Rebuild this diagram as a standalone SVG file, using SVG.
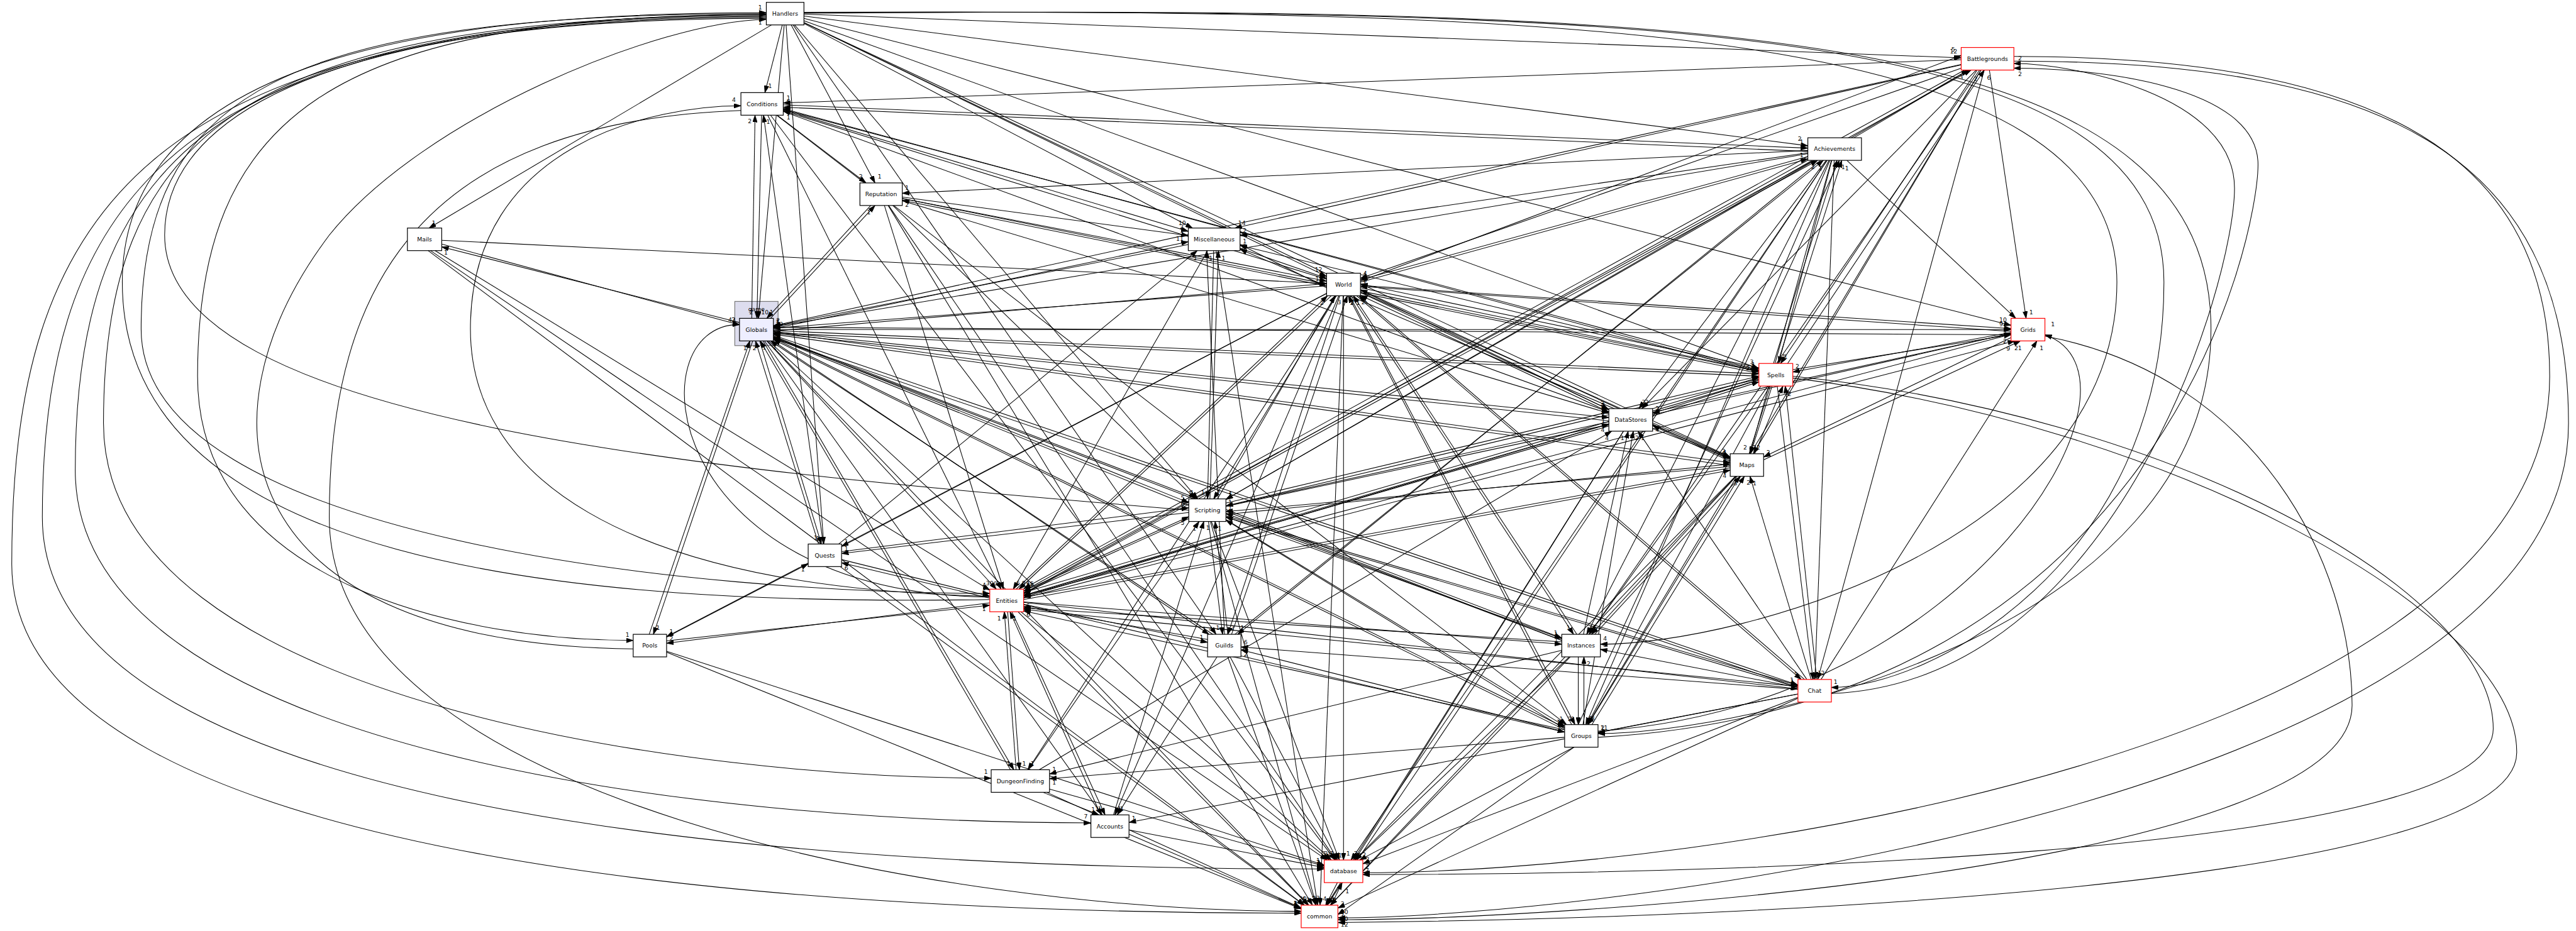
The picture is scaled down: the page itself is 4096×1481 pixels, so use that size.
<svg xmlns="http://www.w3.org/2000/svg" width="4096" height="1481" viewBox="0 0 4096 1481">
<style>
text{font-family:"DejaVu Sans","Liberation Sans",sans-serif;font-size:12.4px;fill:#000}
.n rect{fill:#fff;stroke:#000;stroke-width:1.6}
.r rect{stroke:#f00}
.n text{text-anchor:middle}
#edges path{fill:none;stroke:#000;stroke-width:1.4;marker-end:url(#a)}
</style>
<defs>
<marker id="a" markerUnits="userSpaceOnUse" markerWidth="15" markerHeight="10" refX="15" refY="5" orient="auto"><path d="M0,0 L15,5 L0,10 z" fill="#000" stroke="#000" stroke-width="1"/></marker>
</defs>
<rect x="0" y="0" width="4096" height="1481" fill="#fff"/>
<g transform="scale(0.748)">
<g id="cluster-game"><rect x="1562" y="641" width="92" height="94" fill="#ddddee" stroke="#777" stroke-width="1.6"/><text x="1608" y="662" text-anchor="middle">game</text></g>
<g id="edges">
<path d="M1709,30 L4169,123"/>
<path d="M1663,53 L1626,197"/>
<path d="M1709,34 L3843,310"/>
<path d="M1682,53 L1860,389"/>
<path d="M1709,50 L2535,485"/>
<path d="M1640,53 L912,485"/>
<path d="M1709,48 L2820,588"/>
<path d="M1667,53 L1612,677"/>
<path d="M1709,39 L4275,692"/>
<path d="M1709,44 L3739,784"/>
<path d="M1709,48 L3420,871"/>
<path d="M1709,48 L3678,972"/>
<path d="M1689,53 L2546,1061"/>
<path d="M1671,53 L1751,1157"/>
<path d="M1629,29 C600,29 300,200 300,700 C300,1150 1500,1262 2104,1262"/>
<path d="M1629,31 C700,31 420,250 420,800 C420,1250 1000,1362 1346,1362"/>
<path d="M1686,53 L2585,1349"/>
<path d="M1709,26 C3400,18 4500,60 4500,600 C4500,1150 3700,1370 3402,1370"/>
<path d="M1709,27 C3500,20 4600,40 4600,600 C4600,1200 4100,1462 3893,1462"/>
<path d="M1709,28 C3600,15 4700,40 4700,700 C4700,1350 3700,1560 3397,1560"/>
<path d="M1629,33 C500,33 220,300 220,900 C220,1500 1500,1655 2107,1655"/>
<path d="M1629,35 C450,35 160,350 160,1000 C160,1600 1500,1750 2319,1750"/>
<path d="M1629,37 C400,37 90,400 90,1100 C90,1760 1800,1848 2815,1848"/>
<path d="M1629,39 C300,39 25,450 25,1200 C25,1860 1800,1942 2766,1942"/>
<path d="M4169,127 L1665,219"/>
<path d="M4169,138 L2625,485"/>
<path d="M4169,145 L2892,592"/>
<path d="M4169,137 L1644,693"/>
<path d="M4229,149 L4307,677"/>
<path d="M4203,149 L3785,773"/>
<path d="M4201,149 L3490,869"/>
<path d="M4211,149 L3727,965"/>
<path d="M4184,149 L2606,1062"/>
<path d="M4176,149 L2176,1252"/>
<path d="M4208,149 L3378,1349"/>
<path d="M4218,149 L3864,1445"/>
<path d="M4211,149 L3375,1541"/>
<path d="M4281,120 C5000,120 5420,300 5420,800 C5420,1600 3600,1856 2897,1856"/>
<path d="M4281,130 C5050,130 5460,320 5460,900 C5460,1700 3400,1952 2844,1952"/>
<path d="M3941,293 L4184,149"/>
<path d="M2892,598 L4169,118"/>
<path d="M3800,773 L4218,149"/>
<path d="M2176,1262 L4190,149"/>
<path d="M3893,1475 C4500,1450 4750,600 4750,400 C4750,200 4400,135 4281,135"/>
<path d="M3397,1568 C4600,1500 4800,500 4800,350 C4800,180 4450,145 4281,145"/>
<path d="M1665,223 L3843,315"/>
<path d="M1652,245 L1841,389"/>
<path d="M1665,234 L2526,492"/>
<path d="M1619,245 L1609,677"/>
<path d="M1665,233 L3739,787"/>
<path d="M1665,237 L3420,876"/>
<path d="M1632,245 L2128,1253"/>
<path d="M1651,245 L3330,1541"/>
<path d="M1638,245 L2838,1829"/>
<path d="M1575,235 C900,260 700,600 700,1100 C700,1700 2000,1938 2766,1938"/>
<path d="M3843,322 L1665,228"/>
<path d="M3739,792 L1665,231"/>
<path d="M1598,677 L1605,245"/>
<path d="M2104,1268 C1300,1250 1000,1000 1000,700 C1000,300 1400,225 1575,225"/>
<path d="M2820,594 L1665,236"/>
<path d="M3843,320 L1918,411"/>
<path d="M3843,325 L2636,501"/>
<path d="M3843,333 L2892,595"/>
<path d="M3843,327 L1644,695"/>
<path d="M3926,341 L4285,677"/>
<path d="M3894,341 L3781,773"/>
<path d="M3882,341 L3484,869"/>
<path d="M3893,341 L3720,965"/>
<path d="M3858,341 L2606,1062"/>
<path d="M3856,341 L2176,1257"/>
<path d="M3870,341 L2631,1349"/>
<path d="M3888,341 L3373,1349"/>
<path d="M3899,341 L3858,1445"/>
<path d="M3890,341 L3371,1541"/>
<path d="M3884,341 L2872,1829"/>
<path d="M3884,341 L2821,1925"/>
<path d="M2176,1264 L3864,341"/>
<path d="M3770,773 L3905,341"/>
<path d="M2625,1349 L3876,341"/>
<path d="M3355,1541 L3910,341"/>
<path d="M2892,600 L3843,338"/>
<path d="M3718,965 L3915,341"/>
<path d="M1918,419 L2526,501"/>
<path d="M1918,422 L2820,598"/>
<path d="M1851,437 L1630,677"/>
<path d="M1918,422 L3739,790"/>
<path d="M1918,427 L3420,879"/>
<path d="M1898,437 L2541,1061"/>
<path d="M1880,437 L2133,1253"/>
<path d="M1889,437 L2840,1829"/>
<path d="M1888,437 L2790,1925"/>
<path d="M1638,677 L1860,437"/>
<path d="M3739,794 L1918,426"/>
<path d="M2636,528 L2820,592"/>
<path d="M2526,520 L1644,694"/>
<path d="M2580,533 L2567,1061"/>
<path d="M2567,533 L2154,1253"/>
<path d="M2585,533 L2801,1925"/>
<path d="M2572,1061 L2590,533"/>
<path d="M2820,612 L2636,520"/>
<path d="M3739,788 L2636,522"/>
<path d="M3678,974 L2636,530"/>
<path d="M1644,699 L2526,514"/>
<path d="M2603,1349 L2565,533"/>
<path d="M1783,1157 L2545,533"/>
<path d="M939,511 L2820,603"/>
<path d="M939,519 L1572,691"/>
<path d="M925,533 L2104,1255"/>
<path d="M915,533 L2821,1829"/>
<path d="M910,533 L2773,1925"/>
<path d="M1572,686 L939,525"/>
<path d="M2820,608 L1644,698"/>
<path d="M2892,607 L4275,699"/>
<path d="M2892,612 L3739,789"/>
<path d="M2892,622 L3420,871"/>
<path d="M2892,621 L3678,973"/>
<path d="M2841,629 L2580,1061"/>
<path d="M2820,624 L1789,1162"/>
<path d="M2830,629 L2166,1253"/>
<path d="M2820,624 L1417,1354"/>
<path d="M2848,629 L2610,1349"/>
<path d="M2872,629 L3345,1349"/>
<path d="M2884,629 L3829,1445"/>
<path d="M2869,629 L3348,1541"/>
<path d="M2840,629 L2185,1637"/>
<path d="M2846,629 L2370,1733"/>
<path d="M2856,629 L2856,1829"/>
<path d="M2855,629 L2806,1925"/>
<path d="M1644,704 L2820,603"/>
<path d="M3739,782 L2892,604"/>
<path d="M3678,978 L2892,616"/>
<path d="M3420,876 L2892,628"/>
<path d="M2160,1253 L2822,629"/>
<path d="M2588,1061 L2838,629"/>
<path d="M2618,1349 L2864,629"/>
<path d="M3352,1349 L2877,629"/>
<path d="M3836,1445 L2889,629"/>
<path d="M3341,1541 L2866,629"/>
<path d="M4275,705 L2892,609"/>
<path d="M1644,701 L4275,701"/>
<path d="M1644,703 L3739,795"/>
<path d="M1644,705 L3420,888"/>
<path d="M1644,706 L3678,984"/>
<path d="M1644,715 L2527,1069"/>
<path d="M1615,725 L1746,1157"/>
<path d="M1630,725 L2118,1253"/>
<path d="M1600,725 L1389,1349"/>
<path d="M1643,725 L2570,1349"/>
<path d="M1644,715 L3320,1357"/>
<path d="M1644,713 L3822,1457"/>
<path d="M1644,719 L3326,1547"/>
<path d="M1622,725 L2155,1637"/>
<path d="M1625,725 L2343,1733"/>
<path d="M1634,725 L2830,1829"/>
<path d="M1631,725 L2782,1925"/>
<path d="M2104,1270 C1400,1260 1350,690 1572,690"/>
<path d="M3739,800 L1644,708"/>
<path d="M3678,990 L1644,711"/>
<path d="M3420,895 L1644,709"/>
<path d="M2527,1075 L1644,718"/>
<path d="M1740,1157 L1606,725"/>
<path d="M1380,1349 L1594,725"/>
<path d="M4275,712 L1644,696"/>
<path d="M2578,1349 L1638,725"/>
<path d="M2148,1637 L1616,725"/>
<path d="M3822,1462 L1644,720"/>
<path d="M3326,1552 L1644,722"/>
<path d="M3320,1362 L1644,717"/>
<path d="M4275,707 L3811,791"/>
<path d="M4275,718 L3749,972"/>
<path d="M4275,711 L2176,1267"/>
<path d="M4347,715 C4800,800 5000,1200 5000,1500 C5000,1850 3300,1956 2844,1956"/>
<path d="M3749,978 L4295,725"/>
<path d="M3811,786 L4275,712"/>
<path d="M2176,1272 L4283,725"/>
<path d="M3871,1445 L4330,725"/>
<path d="M2606,1076 L4275,709"/>
<path d="M3397,1555 C4200,1500 4600,800 4347,712"/>
<path d="M3739,808 L3513,879"/>
<path d="M3767,821 L3721,965"/>
<path d="M3739,806 L2606,1076"/>
<path d="M3739,808 L2176,1266"/>
<path d="M3758,821 L3378,1349"/>
<path d="M3778,821 L3854,1445"/>
<path d="M3762,821 L3374,1541"/>
<path d="M3811,800 C4600,880 5300,1250 5300,1550 C5300,1830 3500,1860 2897,1860"/>
<path d="M3811,804 C4600,900 5350,1300 5350,1600 C5350,1920 3300,1958 2844,1962"/>
<path d="M3513,885 L3739,812"/>
<path d="M3730,965 L3790,821"/>
<path d="M2176,1260 L3739,803"/>
<path d="M2606,1070 L3739,800"/>
<path d="M3862,1445 L3795,821"/>
<path d="M3513,911 L3678,975"/>
<path d="M3420,906 L2176,1267"/>
<path d="M3451,917 L2877,1829"/>
<path d="M3451,917 L2820,1925"/>
<path d="M3513,882 L4275,709"/>
<path d="M3678,981 L3513,905"/>
<path d="M2176,1270 L3420,902"/>
<path d="M2606,1077 L3420,903"/>
<path d="M3366,1349 L3461,917"/>
<path d="M3365,1541 L3472,917"/>
<path d="M2209,1637 L3426,917"/>
<path d="M3841,1445 L3482,917"/>
<path d="M3678,992 L2606,1088"/>
<path d="M3678,995 L2176,1270"/>
<path d="M3691,1013 L3383,1349"/>
<path d="M3698,1013 L3376,1541"/>
<path d="M3689,1013 L2880,1829"/>
<path d="M3690,1013 L2828,1925"/>
<path d="M2176,1275 L3678,1000"/>
<path d="M2606,1094 L3678,987"/>
<path d="M3390,1349 L3700,1013"/>
<path d="M3850,1445 L3720,1013"/>
<path d="M3384,1541 L3708,1013"/>
<path d="M2527,1090 L1789,1177"/>
<path d="M2527,1103 L2176,1261"/>
<path d="M2569,1109 L2599,1349"/>
<path d="M2606,1099 L3320,1358"/>
<path d="M2606,1105 L3326,1544"/>
<path d="M2606,1097 L3822,1458"/>
<path d="M2575,1109 L2847,1829"/>
<path d="M2573,1109 L2798,1925"/>
<path d="M2176,1257 L2527,1099"/>
<path d="M1789,1173 L2527,1080"/>
<path d="M2186,1637 L2549,1109"/>
<path d="M2367,1733 L2559,1109"/>
<path d="M2610,1349 L2583,1109"/>
<path d="M3320,1362 L2606,1092"/>
<path d="M3822,1462 L2606,1100"/>
<path d="M3326,1550 L2606,1106"/>
<path d="M1789,1190 L2104,1268"/>
<path d="M1786,1205 L2772,1925"/>
<path d="M1750,1157 L1623,245"/>
<path d="M2104,1272 L1789,1197"/>
<path d="M1417,1355 L1718,1199"/>
<path d="M2104,1282 L1417,1368"/>
<path d="M2176,1285 L2567,1366"/>
<path d="M2176,1280 L3320,1370"/>
<path d="M2176,1281 L3822,1465"/>
<path d="M2176,1286 L3326,1557"/>
<path d="M2142,1301 L2167,1637"/>
<path d="M2151,1301 L2349,1733"/>
<path d="M2170,1301 L2826,1829"/>
<path d="M2164,1301 L2781,1925"/>
<path d="M1417,1363 L2104,1287"/>
<path d="M2567,1360 L2176,1290"/>
<path d="M3320,1365 L2176,1293"/>
<path d="M3822,1460 L2176,1296"/>
<path d="M3326,1552 L2176,1299"/>
<path d="M2160,1637 L2135,1301"/>
<path d="M2340,1733 L2147,1301"/>
<path d="M1417,1385 L2815,1840"/>
<path d="M1417,1387 L2766,1933"/>
<path d="M1346,1380 C500,1370 400,900 700,500 C900,250 1400,45 1629,41"/>
<path d="M2587,1397 L2375,1733"/>
<path d="M2615,1397 L2843,1829"/>
<path d="M2610,1397 L2797,1925"/>
<path d="M3822,1466 L2638,1376"/>
<path d="M3326,1556 L2638,1382"/>
<path d="M3355,1397 L3355,1541"/>
<path d="M3336,1397 L2881,1829"/>
<path d="M3338,1397 L2828,1925"/>
<path d="M3320,1383 L2231,1646"/>
<path d="M3367,1541 L3367,1397"/>
<path d="M3822,1462 L3402,1381"/>
<path d="M3822,1476 L3397,1558"/>
<path d="M3822,1476 L2400,1749"/>
<path d="M3822,1483 L2897,1837"/>
<path d="M3822,1485 L2844,1931"/>
<path d="M3326,1568 L2231,1656"/>
<path d="M3346,1589 L2890,1829"/>
<path d="M3346,1589 L2844,1945"/>
<path d="M2217,1685 L2336,1733"/>
<path d="M2231,1678 L2815,1842"/>
<path d="M2225,1685 L2766,1931"/>
<path d="M2400,1765 L2815,1845"/>
<path d="M2400,1774 L2766,1932"/>
<path d="M2843,1877 L2818,1925"/>
<path d="M2830,1925 L2853,1877"/>
<path d="M2104,1275 C1200,1290 260,1200 260,600 C260,100 1000,27 1629,27"/>
<path d="M2527,1085 C1500,1000 350,900 350,500 C350,150 1000,31 1629,31"/>
<g id="edge-labels">
<text x="4145" y="113">12</text><text x="1633" y="187">1</text><text x="3822" y="300">2</text><text x="1866" y="380">1</text>
<text x="2505" y="478">10</text><text x="918" y="478">1</text><text x="2795" y="578">12</text><text x="1618" y="668">10</text>
<text x="4250" y="684">10</text><text x="3720" y="774">3</text><text x="3402" y="862">3</text><text x="3660" y="964">2</text>
<text x="2530" y="1052">1</text><text x="1735" y="1150">1</text><text x="2088" y="1254">1</text><text x="1330" y="1354">1</text>
<text x="2570" y="1342">4</text><text x="3408" y="1362">4</text><text x="3898" y="1455">1</text><text x="3402" y="1552">11</text>
<text x="2092" y="1646">1</text><text x="2304" y="1741">7</text><text x="2798" y="1838">2</text><text x="2750" y="1932">2</text>
<text x="1672" y="212">1</text><text x="2632" y="478">14</text><text x="2898" y="586">4</text><text x="1650" y="686">2</text>
<text x="4314" y="668">1</text><text x="3792" y="764">1</text><text x="3497" y="860">2</text><text x="3734" y="956">2</text>
<text x="2612" y="1055">1</text><text x="2182" y="1246">15</text><text x="3385" y="1340">6</text><text x="3871" y="1436">2</text>
<text x="3382" y="1532">3</text><text x="2903" y="1848">2</text><text x="2850" y="1944">10</text>
<text x="4165" y="168">3</text><text x="4148" y="110">5</text><text x="4224" y="170">6</text><text x="4196" y="172">2</text>
<text x="4290" y="128">2</text><text x="4290" y="162">2</text>
<text x="3826" y="306">1</text><text x="1826" y="380">2</text><text x="2508" y="486">2</text><text x="1593" y="668">2</text>
<text x="3722" y="779">3</text><text x="3403" y="868">2</text><text x="2112" y="1246">9</text><text x="3315" y="1534">1</text>
<text x="2822" y="1821">1</text><text x="2750" y="1928">6</text><text x="1671" y="240">1</text><text x="1672" y="254">1</text>
<text x="1590" y="262">2</text><text x="1556" y="217">4</text><text x="1671" y="222">1</text>
<text x="1924" y="404">1</text><text x="2642" y="495">2</text><text x="2898" y="590">1</text><text x="1650" y="689">1</text>
<text x="4271" y="668">1</text><text x="3788" y="764">1</text><text x="3490" y="860">3</text><text x="3726" y="956">2</text>
<text x="2611" y="1058">1</text><text x="2182" y="1250">5</text><text x="2637" y="1340">1</text><text x="3379" y="1340">1</text>
<text x="3864" y="1436">1</text><text x="3377" y="1532">1</text><text x="2878" y="1820">2</text><text x="2828" y="1916">3</text>
<text x="3850" y="360">2</text><text x="3895" y="360">1</text><text x="3866" y="362">1</text><text x="3914" y="360">1</text>
<text x="3826" y="334">1</text><text x="3922" y="362">1</text>
<text x="2508" y="495">1</text><text x="2803" y="592">2</text><text x="1636" y="668">1</text><text x="3722" y="783">1</text>
<text x="3403" y="872">2</text><text x="2526" y="1054">1</text><text x="2118" y="1246">3</text><text x="2845" y="1823">1</text>
<text x="2795" y="1919">2</text><text x="1843" y="456">1</text><text x="1924" y="440">2</text>
<text x="2803" y="585">1</text><text x="1649" y="690">1</text><text x="2553" y="1052">1</text><text x="2160" y="1244">6</text>
<text x="2788" y="1916">2</text><text x="2597" y="553">1</text><text x="2642" y="540">2</text><text x="2642" y="518">1</text>
<text x="2642" y="528">3</text><text x="2500" y="512">11</text><text x="2570" y="553">1</text><text x="2537" y="553">1</text>
<text x="2803" y="597">1</text><text x="1555" y="684">2</text><text x="2088" y="1248">4</text><text x="2826" y="1823">1</text>
<text x="2778" y="1919">1</text><text x="944" y="542">1</text>
<text x="1649" y="694">10</text><text x="4258" y="692">2</text><text x="3722" y="783">4</text><text x="3405" y="866">5</text>
<text x="3662" y="967">4</text><text x="2586" y="1052">2</text><text x="1795" y="1156">1</text><text x="2172" y="1244">8</text>
<text x="1423" y="1348">1</text><text x="2616" y="1340">2</text><text x="3330" y="1340">1</text><text x="3814" y="1438">1</text>
<text x="3333" y="1534">2</text><text x="2191" y="1628">1</text><text x="2376" y="1724">1</text><text x="2862" y="1820">1</text>
<text x="2812" y="1916">4</text><text x="2796" y="598">12</text><text x="2898" y="600">3</text><text x="2898" y="614">4</text>
<text x="2898" y="642">1</text><text x="2806" y="648">2</text><text x="2843" y="647">3</text><text x="2870" y="648">2</text>
<text x="2883" y="648">1</text><text x="2894" y="647">2</text><text x="2871" y="647">2</text><text x="2897" y="605">1</text>
<text x="4250" y="694">9</text><text x="3712" y="788">24</text><text x="3403" y="882">4</text><text x="3662" y="978">7</text>
<text x="2510" y="1063">5</text><text x="1730" y="1148">1</text><text x="2096" y="1244">30</text><text x="1395" y="1340">1</text>
<text x="2556" y="1342">1</text><text x="3303" y="1350">1</text><text x="3805" y="1450">1</text><text x="3309" y="1540">1</text>
<text x="2140" y="1628">1</text><text x="2328" y="1724">1</text><text x="2815" y="1820">3</text><text x="2767" y="1916">4</text>
<text x="1548" y="684">43</text><text x="1649" y="704">3</text><text x="1650" y="724">3</text><text x="1649" y="712">2</text>
<text x="1649" y="718">2</text><text x="1600" y="744">2</text><text x="1580" y="744">1</text><text x="1649" y="698">1</text>
<text x="1643" y="743">1</text><text x="1621" y="743">1</text><text x="1649" y="720">1</text><text x="1649" y="722">1</text>
<text x="1649" y="716">1</text>
<text x="3817" y="784">2</text><text x="3755" y="966">2</text><text x="2181" y="1263">5</text><text x="2849" y="1952">3</text>
<text x="4282" y="744">21</text><text x="4258" y="730">2</text><text x="4265" y="746">9</text><text x="4336" y="744">1</text>
<text x="4259" y="705">1</text><text x="4360" y="694">1</text>
<text x="3519" y="873">2</text><text x="3706" y="956">2</text><text x="2611" y="1072">1</text><text x="2180" y="1248">37</text>
<text x="3383" y="1343">2</text><text x="3859" y="1439">1</text><text x="3379" y="1535">1</text><text x="2902" y="1856">2</text>
<text x="2850" y="1970">12</text><text x="3723" y="808">1</text><text x="3796" y="840">2</text><text x="3722" y="797">3</text>
<text x="3723" y="796">2</text><text x="3800" y="842">2</text>
<text x="3662" y="968">1</text><text x="2181" y="1267">1</text><text x="2882" y="1823">1</text><text x="2825" y="1919">3</text>
<text x="4259" y="709">1</text><text x="3519" y="918">4</text><text x="3403" y="918">4</text><text x="3404" y="899">1</text>
<text x="3445" y="936">1</text><text x="3476" y="936">2</text><text x="3412" y="936">4</text><text x="3488" y="936">1</text>
<text x="2611" y="1084">1</text><text x="2181" y="1270">7</text><text x="3388" y="1343">2</text><text x="3381" y="1535">1</text>
<text x="2885" y="1823">2</text><text x="2833" y="1919">2</text><text x="3662" y="1016">4</text><text x="3662" y="983">3</text>
<text x="3685" y="1032">3</text><text x="3726" y="1032">1</text><text x="3713" y="1031">2</text>
<text x="1795" y="1171">1</text><text x="2181" y="1261">8</text><text x="2585" y="1340">1</text><text x="3304" y="1354">1</text>
<text x="3310" y="1540">1</text><text x="3806" y="1454">1</text><text x="2852" y="1823">2</text><text x="2803" y="1919">3</text>
<text x="2510" y="1116">5</text><text x="2510" y="1076">6</text><text x="2535" y="1128">1</text><text x="2564" y="1127">1</text>
<text x="2589" y="1128">1</text><text x="2611" y="1092">1</text><text x="2611" y="1100">1</text><text x="2611" y="1106">1</text>
<text x="2088" y="1264">6</text><text x="2777" y="1919">1</text><text x="1629" y="264">1</text><text x="1795" y="1212">6</text>
<text x="1703" y="1215">1</text>
<text x="1423" y="1362">2</text><text x="2550" y="1360">1</text><text x="3304" y="1366">1</text><text x="3805" y="1460">1</text>
<text x="3310" y="1553">1</text><text x="2173" y="1628">1</text><text x="2334" y="1724">1</text><text x="2810" y="1820">3</text>
<text x="2762" y="1916">20</text><text x="2088" y="1300">1</text><text x="2182" y="1302">5</text><text x="2181" y="1293">6</text>
<text x="2181" y="1296">6</text><text x="2182" y="1312">6</text><text x="2120" y="1320">1</text><text x="2153" y="1320">1</text>
<text x="2798" y="1834">1</text><text x="2750" y="1929">1</text><text x="1612" y="52">1</text>
<text x="2381" y="1724">1</text><text x="2828" y="1820">1</text><text x="2802" y="1919">3</text><text x="2644" y="1370">6</text>
<text x="2644" y="1396">2</text><text x="3340" y="1534">1</text><text x="2886" y="1823">3</text><text x="2833" y="1919">2</text>
<text x="2237" y="1640">1</text><text x="3373" y="1416">2</text><text x="3408" y="1376">3</text>
<text x="3403" y="1552">2</text><text x="2406" y="1744">1</text><text x="2903" y="1832">2</text><text x="2850" y="1926">3</text>
<text x="2237" y="1668">1</text><text x="2896" y="1822">2</text><text x="2850" y="1958">10</text>
<text x="2320" y="1726">1</text><text x="2799" y="1838">1</text><text x="2750" y="1925">2</text><text x="2798" y="1838">3</text>
<text x="2750" y="1926">1</text><text x="2790" y="1915">23</text><text x="2860" y="1900">1</text>
<text x="1612" y="20">1</text><text x="1612" y="35">1</text>
</g>
</g>
<g id="node-Handlers" class="n"><rect x="1629" y="5" width="80" height="48"/><text x="1669" y="33.5">Handlers</text></g>
<g id="node-Battlegrounds" class="n r"><rect x="4169" y="101" width="112" height="48"/><text x="4225" y="129.5">Battlegrounds</text></g>
<g id="node-Conditions" class="n"><rect x="1575" y="197" width="90" height="48"/><text x="1620" y="225.5">Conditions</text></g>
<g id="node-Achievements" class="n"><rect x="3843" y="293" width="114" height="48"/><text x="3900" y="321.5">Achievements</text></g>
<g id="node-Reputation" class="n"><rect x="1828" y="389" width="90" height="48"/><text x="1873" y="417.5">Reputation</text></g>
<g id="node-Miscellaneous" class="n"><rect x="2526" y="485" width="110" height="48"/><text x="2581" y="513.5">Miscellaneous</text></g>
<g id="node-Mails" class="n"><rect x="866" y="485" width="73" height="48"/><text x="902.5" y="513.5">Mails</text></g>
<g id="node-World" class="n"><rect x="2820" y="581" width="72" height="48"/><text x="2856" y="609.5">World</text></g>
<g id="node-Globals" class="n"><rect x="1572" y="677" width="72" height="48" style="fill:#eeeeff"/><text x="1608" y="705.5">Globals</text></g>
<g id="node-Grids" class="n r"><rect x="4275" y="677" width="72" height="48"/><text x="4311" y="705.5">Grids</text></g>
<g id="node-Spells" class="n r"><rect x="3739" y="773" width="72" height="48"/><text x="3775" y="801.5">Spells</text></g>
<g id="node-DataStores" class="n"><rect x="3420" y="869" width="93" height="48"/><text x="3466.5" y="897.5">DataStores</text></g>
<g id="node-Maps" class="n"><rect x="3678" y="965" width="71" height="48"/><text x="3713.5" y="993.5">Maps</text></g>
<g id="node-Scripting" class="n"><rect x="2527" y="1061" width="79" height="48"/><text x="2566.5" y="1089.5">Scripting</text></g>
<g id="node-Quests" class="n"><rect x="1718" y="1157" width="71" height="48"/><text x="1753.5" y="1185.5">Quests</text></g>
<g id="node-Entities" class="n r"><rect x="2104" y="1253" width="72" height="48"/><text x="2140" y="1281.5">Entities</text></g>
<g id="node-Pools" class="n"><rect x="1346" y="1349" width="71" height="48"/><text x="1381.5" y="1377.5">Pools</text></g>
<g id="node-Guilds" class="n"><rect x="2567" y="1349" width="71" height="48"/><text x="2602.5" y="1377.5">Guilds</text></g>
<g id="node-Instances" class="n"><rect x="3320" y="1349" width="82" height="48"/><text x="3361" y="1377.5">Instances</text></g>
<g id="node-Chat" class="n r"><rect x="3822" y="1445" width="71" height="48"/><text x="3857.5" y="1473.5">Chat</text></g>
<g id="node-Groups" class="n"><rect x="3326" y="1541" width="71" height="48"/><text x="3361.5" y="1569.5">Groups</text></g>
<g id="node-DungeonFinding" class="n"><rect x="2107" y="1637" width="124" height="48"/><text x="2169" y="1665.5">DungeonFinding</text></g>
<g id="node-Accounts" class="n"><rect x="2319" y="1733" width="81" height="48"/><text x="2359.5" y="1761.5">Accounts</text></g>
<g id="node-database" class="n r"><rect x="2815" y="1829" width="82" height="48"/><text x="2856" y="1857.5">database</text></g>
<g id="node-common" class="n r"><rect x="2766" y="1925" width="78" height="48"/><text x="2805" y="1953.5">common</text></g>
</g>
</svg>
